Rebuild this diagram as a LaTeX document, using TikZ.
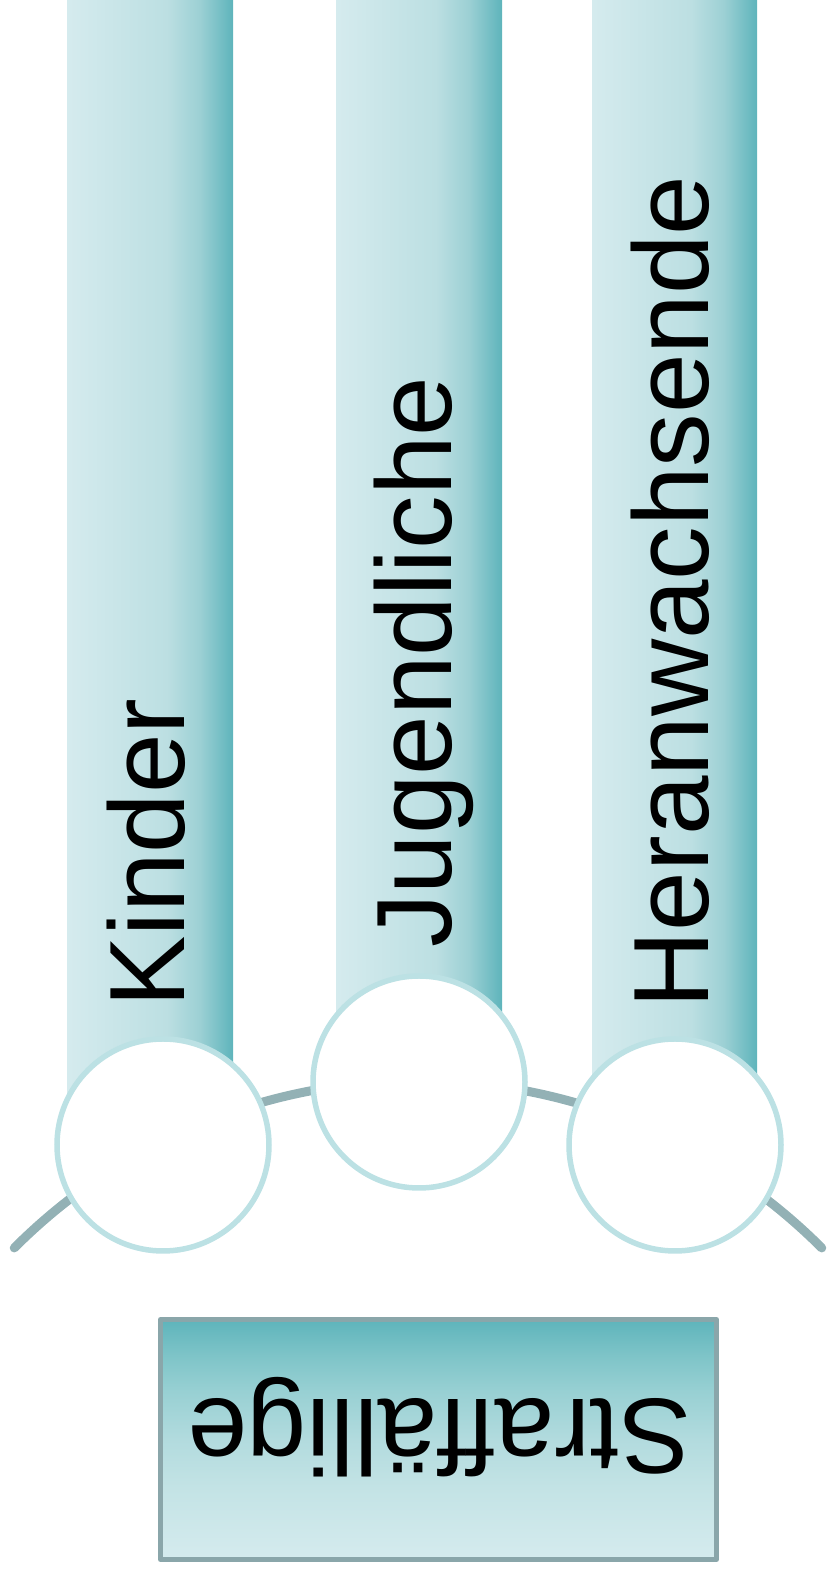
\documentclass[tikz,border=0pt]{standalone}
\usepackage{fontspec}
\setmainfont{Liberation Sans}
\definecolor{cL}{HTML}{D5EBEE}
\definecolor{cM}{HTML}{BCDFE2}
\definecolor{cM2}{HTML}{9CD0D4}
\definecolor{cD}{HTML}{5EB4BB}
\definecolor{bA}{HTML}{C3E3E5}
\definecolor{bB}{HTML}{B2DBDE}
\definecolor{bC}{HTML}{98D0D3}
\definecolor{bD}{HTML}{7EC4C8}
\definecolor{cC}{HTML}{BCE1E4}
\definecolor{cArc}{HTML}{93B1B5}
\definecolor{cB}{HTML}{8AA6AA}
\pgfdeclarehorizontalshading{barshade}{100bp}{color(0bp)=(cL); color(25bp)=(cL); color(55bp)=(cM); color(65bp)=(cM2); color(75bp)=(cD); color(100bp)=(cD)}
\pgfdeclareverticalshading{boxshade}{100bp}{color(0bp)=(cL); color(25bp)=(cL); color(40bp)=(bA); color(50bp)=(bB); color(60bp)=(bC); color(67.5bp)=(bD); color(75bp)=(cD); color(100bp)=(cD)}
\begin{document}
\begin{tikzpicture}[x=1pt,y=1pt,
  lbl/.style={inner sep=0pt, font=\fontsize{107}{112}\selectfont, text=black},
  circ/.style={circle, draw=cC, line width=5.5pt, fill=white, minimum size=212pt, inner sep=0pt},
  bar/.style={shading=barshade},
  arcline/.style={draw=cArc, line width=9pt, line cap=round},
  boxst/.style={rectangle, shading=boxshade, draw=cB, line width=5pt, line join=round, minimum width=556pt, minimum height=240pt, inner sep=0pt}]
\useasboundingbox (0,0) rectangle (827,1573);
% bars
\shade[bar] (67,428) rectangle (233,1573);
\shade[bar] (336,491) rectangle (502,1573);
\shade[bar] (592,428) rectangle (757,1573);
% labels
\node[lbl, rotate=90, anchor=base west] (kinder) at (184,565) {Kinder};
\node[lbl, rotate=90, anchor=base west] (jug) at (451,625) {Jugendliche};
\node[lbl, rotate=90, anchor=base west] (hera) at (708,564.5) {Heranwachsende};
% arc
\draw[arcline] (418,-78.7) ++(135:571) arc[start angle=135, end angle=45, radius=571];
% circles
\node[circ] (c1) at (163,428) {};
\node[circ] (c2) at (419,491) {};
\node[circ] (c3) at (675,428) {};
% box
\node[boxst] (box) at (438.5,133.5) {};
\node[lbl, rotate=180, anchor=base] (straf) at (439.5,173) {Straffällige};
\end{tikzpicture}
\end{document}
